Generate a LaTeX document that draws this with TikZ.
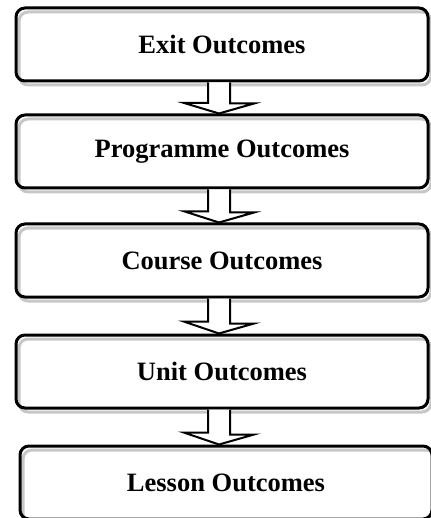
\documentclass[tikz,border=0pt]{standalone}
\usepackage{fontspec}
\setmainfont{Liberation Serif}
\usetikzlibrary{positioning,calc,backgrounds}
\tikzset{
    outbox/.style={draw, line width=3pt, rounded corners=9pt, minimum width=412pt,
        minimum height=73pt, font=\fontsize{26.5}{30}\selectfont\bfseries},
    outshadow/.style={draw=black!22, line width=3pt, rounded corners=9pt},
    blockarr/.style={draw, line width=2pt, fill=white, line join=miter},
}
\newcommand\blockarrow[2]{%
    \coordinate (top) at ($(#1.south)+(-3,0)$);
    \coordinate (tip) at (top |- #2.north);
    \draw[blockarr] ($(top)+(-11,0)$) -- ($(top)!0.66!(tip)+(-11,0)$)
        -- ++(-24,0) -- (tip) -- ++(35,-10) -- ++(-24,0)
        -- ($(top)+(11,0)$);
}
\begin{document}
\begin{tikzpicture}[x=1pt, y=-1pt]
    \useasboundingbox (0,0) rectangle (430,518);
    \node[outbox] (exit) at (222,44.5) {Exit Outcomes};
    \node[outbox, below=31pt of exit] (prog) {Programme Outcomes};
    \node[outbox, below=33pt of prog] (course) {Course Outcomes};
    \node[outbox, below=35pt of course] (unit) {Unit Outcomes};
    \node[outbox, below=35pt of unit, xshift=4pt] (lesson) {Lesson Outcomes};
    \begin{scope}[on background layer]
        \foreach \n in {exit,prog,course,unit,lesson}
            \draw[outshadow] ([shift={(4.5,5.5)}]\n.north west) rectangle ([shift={(1.5,2.5)}]\n.south east);
    \end{scope}
    \blockarrow{exit}{prog}
    \blockarrow{prog}{course}
    \blockarrow{course}{unit}
    \blockarrow{unit}{lesson}
\end{tikzpicture}
\end{document}
